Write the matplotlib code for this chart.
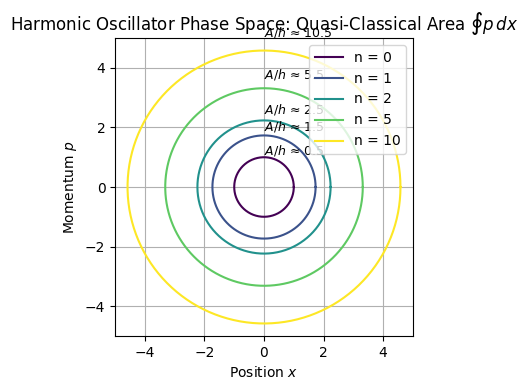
import matplotlib
matplotlib.use('Agg')
import matplotlib.pyplot as plt
import numpy as np

# quantum numbers shown
levels = [0, 1, 2, 5, 10]
colors = ['#440154', '#3b528b', '#21918c', '#5ec962', '#fde725']

fig, ax = plt.subplots(figsize=(5.28, 3.9), dpi=100)

theta = np.linspace(0, 2 * np.pi, 400)
for n, c in zip(levels, colors):
    r = np.sqrt(2 * n + 1)
    ax.plot(r * np.cos(theta), r * np.sin(theta), color=c, label='n = {}'.format(n))
    # area / h = pi r^2 / 2pi
    ax.text(0, r * 1.1, r'$A/h$ ≈ {:.1f}'.format(n + 0.5), fontsize=9)

ax.set_xlim(-5, 5)
ax.set_ylim(-5, 5)
ax.set_aspect('equal')
ax.set_xlabel('Position $x$')
ax.set_ylabel('Momentum $p$')
ax.set_title(r'Harmonic Oscillator Phase Space: Quasi-Classical Area $\oint p\,dx$')
ax.grid(True)
ax.legend(loc='upper right')
fig.subplots_adjust(left=0.218, right=0.782, top=0.903, bottom=0.138)
plt.savefig('out.png')
